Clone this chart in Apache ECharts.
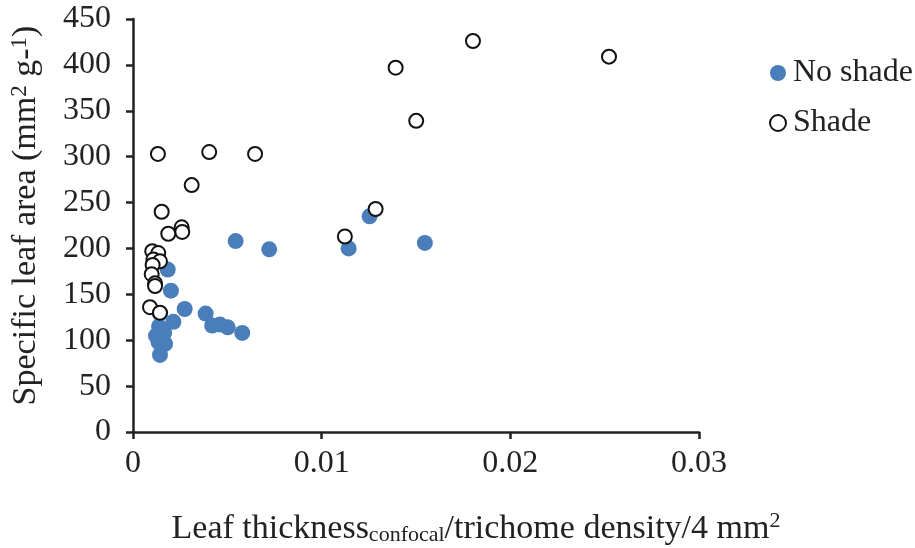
<!DOCTYPE html>
<html>
<head>
<meta charset="utf-8">
<script src="https://cdn.jsdelivr.net/npm/echarts@6/dist/echarts.min.js"></script>
<style>
  html, body { margin: 0; padding: 0; background: #fff; }
  #chart { width: 915px; height: 548px; }
</style>
</head>
<body>
<div id="chart"></div>
<script>
// Leaf thickness (confocal) / trichome density per 4 mm2 vs. specific leaf area
var noShadeX = [0.00184, 0.00201, 0.00274, 0.00214, 0.00143, 0.00138, 0.00165, 0.00122, 0.00170, 0.00135, 0.00143,
                0.00385, 0.00420, 0.00461, 0.00502, 0.00579, 0.00544, 0.00722, 0.01143, 0.01254, 0.01547];
var noShadeY = [177, 154, 134, 120, 129, 115, 108, 105, 96, 98, 84,
                129, 116, 117, 114, 108, 208, 199, 200, 235, 206];

var shadeX = [0.00132, 0.00404, 0.00647, 0.00311, 0.00152, 0.00258, 0.00261, 0.00187, 0.00102, 0.00134,
              0.00108, 0.00143, 0.00104, 0.00099, 0.00117, 0.00117, 0.00090, 0.00143,
              0.01286, 0.01123, 0.01392, 0.01501, 0.01802, 0.02523];
var shadeY = [303, 305, 303, 269, 240, 223, 218, 216, 197, 195,
              188, 186, 182, 172, 162, 159, 136, 130,
              243, 213, 397, 339, 426, 409];

var xTicks = [0, 0.01, 0.02, 0.03];
var yTicks = [0, 50, 100, 150, 200, 250, 300, 350, 400, 450];

function pairs(xs, ys) {
  return xs.map(function (x, i) { return [x, ys[i]]; });
}

var FONT = '"Liberation Serif", "Times New Roman", serif';
var INK = '#222';
var chart = echarts.init(document.getElementById('chart'), null, { renderer: 'canvas' });

chart.setOption({
  animation: false,
  backgroundColor: '#ffffff',
  textStyle: { fontFamily: FONT, color: INK },
  grid: { left: 133, top: 19, width: 566, height: 413, containLabel: false, outerBoundsMode: 'none' },
  legend: {
    orient: 'vertical',
    left: 764,
    top: 52,
    itemGap: 18,
    itemWidth: 16,
    itemHeight: 16,
    textStyle: { fontFamily: FONT, fontSize: 32, color: INK, padding: [0, 0, 0, 2] },
    data: [
      { name: 'No shade', icon: 'circle' },
      { name: 'Shade', icon: 'circle', itemStyle: { color: '#fff', borderColor: '#111', borderWidth: 2 } }
    ]
  },
  xAxis: {
    type: 'value',
    min: xTicks[0],
    max: xTicks[xTicks.length - 1],
    interval: 0.01,
    name: '{a|Leaf thickness}{sub|confocal}{a|/trichome density/4 mm}{sup|2}',
    nameLocation: 'middle',
    nameGap: 78,
    nameTextStyle: {
      padding: [0, 0, 0, 120],
      rich: {
        a: { fontFamily: FONT, fontSize: 34, color: INK, verticalAlign: 'bottom', lineHeight: 36 },
        sub: { fontFamily: FONT, fontSize: 22, color: INK, verticalAlign: 'bottom', lineHeight: 14 },
        sup: { fontFamily: FONT, fontSize: 22, color: INK, verticalAlign: 'top', lineHeight: 30 }
      }
    },
    axisLine: { lineStyle: { color: INK, width: 2.5 } },
    axisTick: { show: true, length: 7, lineStyle: { color: INK, width: 2.5 } },
    axisLabel: {
      fontFamily: FONT, fontSize: 32, color: INK, margin: 16,
      formatter: function (v) { return String(+v.toFixed(3)); }
    },
    splitLine: { show: false }
  },
  yAxis: {
    type: 'value',
    min: yTicks[0],
    max: yTicks[yTicks.length - 1],
    interval: 50,
    name: '{a|Specific leaf area (mm}{sup|2}{a| g-}{sup|1}{a|)}',
    nameLocation: 'middle',
    nameGap: 89,
    nameTextStyle: {
      padding: [0, 0, 0, 20],
      rich: {
        a: { fontFamily: FONT, fontSize: 34, color: INK, lineHeight: 36 },
        sup: { fontFamily: FONT, fontSize: 23, color: INK, verticalAlign: 'top', lineHeight: 30 }
      }
    },
    axisLine: { show: true, lineStyle: { color: INK, width: 2.5 } },
    axisTick: { show: true, length: 7, lineStyle: { color: INK, width: 2.5 } },
    axisLabel: { fontFamily: FONT, fontSize: 32, color: INK, margin: 22 },
    splitLine: { show: false }
  },
  series: [
    {
      name: 'No shade',
      type: 'scatter',
      symbol: 'circle',
      symbolSize: 16,
      itemStyle: { color: '#4a7ebb', opacity: 1 },
      data: pairs(noShadeX, noShadeY),
      z: 2
    },
    {
      name: 'Shade',
      type: 'scatter',
      symbol: 'circle',
      symbolSize: 14,
      itemStyle: { color: '#ffffff', borderColor: '#111', borderWidth: 2, opacity: 1 },
      data: pairs(shadeX, shadeY),
      z: 3
    }
  ]
});
</script>
</body>
</html>
